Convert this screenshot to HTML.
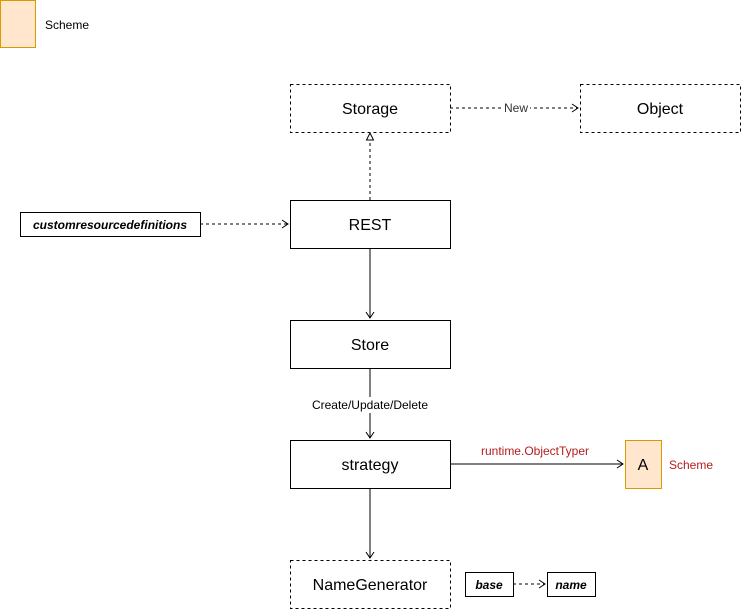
<!DOCTYPE html>
<html><head><style>body{margin:0;background:#fff}svg{display:block}text{font-family:"Liberation Sans",sans-serif}</style></head><body>
<svg width="741" height="609" viewBox="0 0 741 609" xmlns="http://www.w3.org/2000/svg">
<rect x="0.5" y="0.5" width="35" height="47" fill="#ffe6cc" stroke="#d79b00"/>
<text x="45" y="29" font-size="12">Scheme</text>
<g fill="#fff" stroke="#000" stroke-dasharray="3,3">
<rect x="290.5" y="84.5" width="160" height="48"/>
<rect x="580.5" y="84.5" width="160" height="48"/>
<rect x="290.5" y="560.5" width="160" height="48"/>
</g>
<g fill="#fff" stroke="#000">
<rect x="290.5" y="200.5" width="160" height="48"/>
<rect x="290.5" y="320.5" width="160" height="48"/>
<rect x="290.5" y="440.5" width="160" height="48"/>
<rect x="20.5" y="212.5" width="180" height="24"/>
<rect x="465.5" y="572.5" width="48" height="24"/>
<rect x="547.5" y="572.5" width="48" height="24"/>
</g>
<rect x="625.5" y="440.5" width="36" height="48" fill="#ffe6cc" stroke="#d79b00"/>
<g font-size="16" text-anchor="middle" fill="#000">
<text x="370" y="114">Storage</text>
<text x="660" y="114">Object</text>
<text x="370" y="230">REST</text>
<text x="370" y="350">Store</text>
<text x="370" y="470">strategy</text>
<text x="370" y="590">NameGenerator</text>
<text x="643" y="470">A</text>
</g>
<g font-size="12" font-style="italic" font-weight="bold" text-anchor="middle">
<text x="110" y="229">customresourcedefinitions</text>
<text x="489" y="589">base</text>
<text x="571" y="589">name</text>
</g>
<g stroke="#000" fill="none">
<path d="M450 108H578" stroke-dasharray="3,3"/>
<path d="M572 104l6 4-6 4"/>
<path d="M370 200V140" stroke-dasharray="3,3"/>
<path d="M370 133l-3.5 7h7z" fill="#fff"/>
<path d="M200 224H288" stroke-dasharray="3,3"/>
<path d="M282 220l6 4-6 4"/>
<path d="M370 248V318M366 312l4 6 4-6"/>
<path d="M370 368V438M366 432l4 6 4-6"/>
<path d="M370 488V558M366 552l4 6 4-6"/>
<path d="M450 464H623M617 460l6 4-6 4"/>
<path d="M513 584H545" stroke-dasharray="3,3"/>
<path d="M539 580l6 4-6 4"/>
</g>
<rect x="502" y="101" width="28" height="14" fill="#fff"/>
<text x="516" y="112" font-size="12" text-anchor="middle" fill="#333">New</text>
<rect x="311" y="397" width="118" height="16" fill="#fff"/>
<text x="370" y="409" font-size="12" text-anchor="middle">Create/Update/Delete</text>
<text x="535" y="455" font-size="12" text-anchor="middle" fill="#b31e1e">runtime.ObjectTyper</text>
<text x="669" y="469" font-size="12" fill="#b31e1e">Scheme</text>
</svg>
</body></html>
